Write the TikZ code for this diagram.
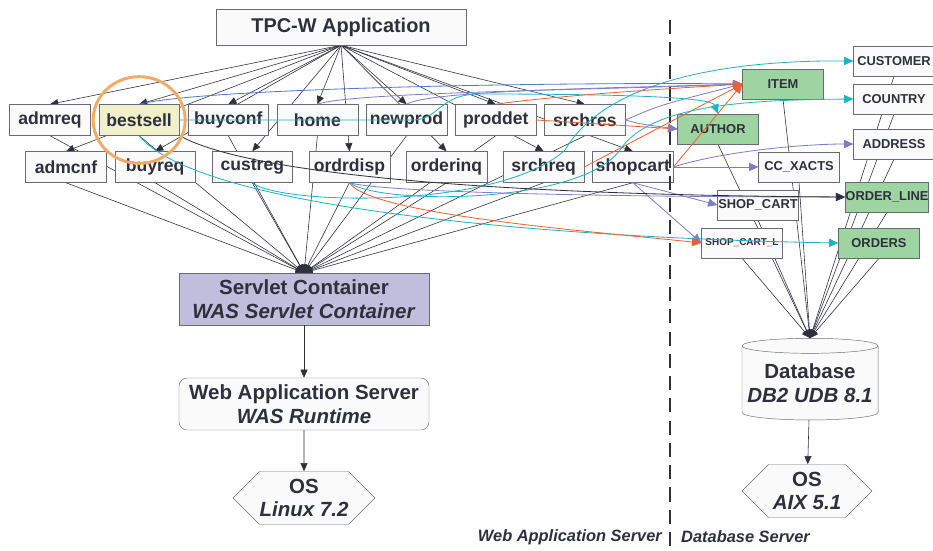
\documentclass[tikz,border=0pt]{standalone}
\usepackage{fontspec}
\setmainfont{Liberation Sans}
\usetikzlibrary{shapes.geometric, shapes.symbols, arrows.meta, positioning, backgrounds}

\definecolor{ink}{RGB}{46,48,60}
\definecolor{boxline}{RGB}{105,107,115}
\definecolor{paper}{RGB}{250,250,250}
\definecolor{hotgreen}{RGB}{158,211,162}
\definecolor{selyellow}{RGB}{240,240,202}
\definecolor{lavender}{RGB}{193,189,221}
\definecolor{ringorange}{RGB}{244,170,100}
\definecolor{qblue}{RGB}{80,120,205}
\definecolor{qpurple}{RGB}{125,125,200}
\definecolor{qcyan}{RGB}{30,178,196}
\definecolor{qorange}{RGB}{240,95,50}

\tikzset{
  servlet/.style={rectangle, draw=boxline, fill=paper, text=ink, minimum width=2.42cm, minimum height=0.93cm, inner sep=0pt, font=\bfseries\fontsize{15}{15}\selectfont},
  dbtable/.style={rectangle, draw=boxline, fill=paper, text=ink, minimum width=2.42cm, minimum height=0.9cm, inner sep=0pt, font=\bfseries\fontsize{11}{11}\selectfont},
  hottable/.style={dbtable, fill=hotgreen},
  layer/.style={rectangle, draw=boxline, fill=paper, text=ink, align=center, minimum width=7.5cm, minimum height=1.56cm, inner sep=0pt, font=\bfseries\fontsize{17.5}{21}\selectfont},
  osbox/.style={signal, signal to=west and east, signal pointer angle=90, draw=boxline, fill=paper, text=ink, align=center, minimum width=3.84cm, minimum height=1.59cm, inner sep=0pt, font=\bfseries\fontsize{17.5}{20}\selectfont},
  link/.style={draw=ink, line width=0.5pt, -{Triangle[length=7pt,width=6pt]}},
  call/.style={line width=0.7pt, -{Triangle[length=8pt,width=7pt]}},
  tag/.style={text=ink, font=\bfseries\itshape\fontsize{14}{14}\selectfont, inner sep=0pt},
}

\begin{document}
\begin{tikzpicture}[x=0.03cm, y=-0.03cm, node distance=0.24cm]
\useasboundingbox (0,0) rectangle (933,550);

% application tier
\node[layer, minimum height=1.08cm, font=\bfseries\fontsize{17}{17}\selectfont] (app) at (341,27) {TPC-W Application};

\node[servlet] (admreq) at (50,120) {admreq};
\node[servlet, fill=selyellow, right=of admreq] (bestsell) {bestsell};
\node[servlet, right=of bestsell] (buyconf) {buyconf};
\node[servlet, right=of buyconf] (home) {home};
\node[servlet, right=of home] (newprod) {newprod};
\node[servlet, right=of newprod] (proddet) {proddet};
\node[servlet, right=of proddet] (srchres) {srchres};

\node[servlet] (admcnf) at (66,167) {admcnf};
\node[servlet, right=of admcnf] (buyreq) {buyreq};
\node[servlet, right=0.48cm of buyreq] (custreg) {custreg};
\node[servlet, right=0.48cm of custreg] (ordrdisp) {ordrdisp};
\node[servlet, right=0.48cm of ordrdisp] (orderinq) {orderinq};
\node[servlet, right=0.48cm of orderinq] (srchreq) {srchreq};
\node[servlet, right=of srchreq] (shopcart) {shopcart};

\node[layer, fill=lavender] (servlets) at (304,299) {Servlet Container\\\textit{WAS Servlet Container}};
\node[layer, rounded corners=0.25cm] (was) at (304,404) {Web Application Server\\\textit{WAS Runtime}};
\node[osbox] (linux) at (304,498) {OS\\\textit{Linux 7.2}};

% database tier
\node[dbtable] (customer) at (894,61) {CUSTOMER};
\node[hottable] (item) at (783,84) {ITEM};
\node[dbtable] (country) at (894,99) {COUNTRY};
\node[hottable] (author) at (718,129) {AUTHOR};
\node[dbtable] (address) at (894,144) {ADDRESS};
\node[dbtable] (ccxacts) at (799,167) {CC\_XACTS};
\node[hottable] (orderline) at (887,197) {ORDER\_LINE};
\node[dbtable] (cart) at (758,205) {SHOP\_CART};
\node[dbtable, font=\bfseries\fontsize{8.5}{9}\selectfont] (cartline) at (742,243) {SHOP\_CART\_L};
\node[hottable] (orders) at (879,243) {ORDERS};

\node[cylinder, shape border rotate=90, aspect=0.12, draw=boxline, fill=paper, text=ink, align=center,
      minimum width=4.08cm, minimum height=2.45cm, inner sep=0pt, font=\bfseries\fontsize{17.5}{21}\selectfont]
      (db) at (810,383) {Database\\\textit{DB2 UDB 8.1}};
\node[osbox, minimum width=3.9cm] (aix) at (807,491) {OS\\\textit{AIX 5.1}};

% tier boundary
\coordinate (divtop) at (670,20);
\coordinate (divbot) at (670,550);
\draw[ink, line width=2.5pt, dash pattern=on 12pt off 7pt] (divtop) -- (divbot);
\node[tag, anchor=east] (wastag) at (662,537) {Web Application Server};
\node[tag, anchor=west] (dbtag) at (681,537) {Database Server};

% call structure
\begin{scope}[on background layer]
  \foreach \s in {admreq,bestsell,buyconf,home,newprod,proddet,srchres,admcnf,buyreq,custreg,ordrdisp,orderinq,srchreq,shopcart} {
    \draw[link] (app.south) -- (\s.north);
    \draw[link] (\s.south) -- (servlets.north);
  }
  \foreach \t in {customer,item,country,author,address,ccxacts,orderline,cart,cartline,orders}
    \draw[link] (\t.south) -- (db.north);
\end{scope}
\draw[link] (servlets) -- (was);
\draw[link] (was) -- (linux);
\draw[link] (db) -- (aix);

% table accesses
\draw[call, qblue] (bestsell.north) .. controls (200,88) and (560,82) .. (item.west);
\draw[call, qpurple] (home.north) .. controls (350,92) and (600,90) .. (item.west);
\draw[call, qpurple] (newprod.north) .. controls (430,90) and (620,88) .. (item.west);
\draw[call, qcyan] (bestsell.east) -- (415,120) .. controls (440,118) and (440,94) .. (480,94) .. controls (640,94) and (712,98) .. (author.north);
\draw[call, qorange] (proddet.north) .. controls (560,95) and (680,88) .. (item.west);
\draw[call, qorange] (proddet.east) -- (author.west);
\draw[call, qpurple] (srchres.east) .. controls (640,124) .. (author.west);
\draw[call, qpurple] (srchres.east) .. controls (660,105) .. (item.west);
\draw[call, qorange] (srchreq.east) -- (item.west);
\draw[call, qorange] (shopcart.east) -- (item.west);
\draw[call, qpurple] (shopcart.east) -- (ccxacts.west);
\draw[call, qpurple] (shopcart.east) .. controls (720,152) and (800,144) .. (address.west);
\draw[call, qpurple] (shopcart.south) -- (cart.west);
\draw[call, qpurple] (shopcart.south) -- (cartline.west);
\draw[call, qcyan] (custreg.south) .. controls (280,205) and (500,210) .. (565,150) .. controls (600,90) and (700,60) .. (customer.west);
\draw[call, qcyan] (ordrdisp.south) .. controls (380,205) and (580,205) .. (620,150) .. controls (650,104) and (750,100) .. (country.west);
\draw[call, qcyan] (bestsell.south) .. controls (200,210) and (560,238) .. (orders.west);
\draw[call, qorange] (ordrdisp.south) .. controls (370,215) and (600,232) .. (cartline.west);
\draw[call, qpurple] (ordrdisp.south) .. controls (380,192) and (600,197) .. (orderline.west);
\draw[call, ink] (bestsell.south east) .. controls (250,175) and (500,195) .. (orderline.west);

% selected servlet
\draw[ringorange, line width=2.5pt] (bestsell) ellipse [x radius=1.38cm, y radius=1.3cm];
\end{tikzpicture}
\end{document}
